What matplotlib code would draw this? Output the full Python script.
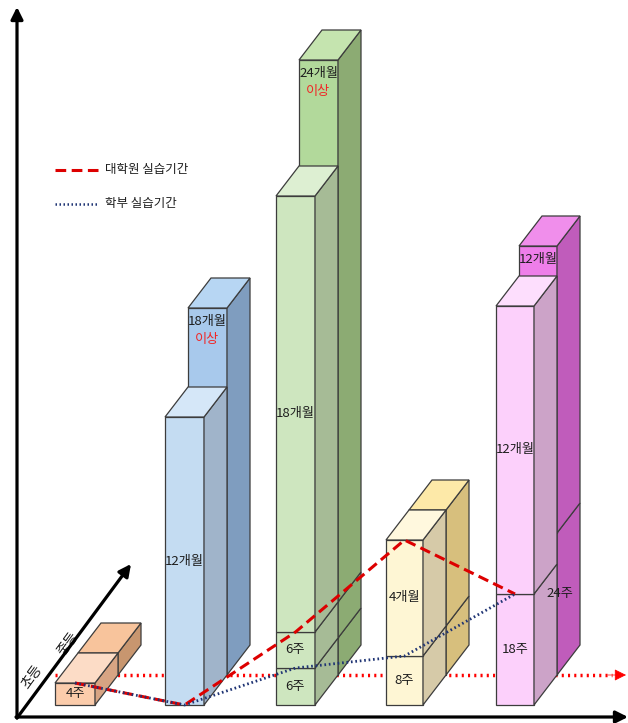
import matplotlib.pyplot as plt
from matplotlib.patches import Polygon

plt.rcParams['font.family'] = ['Noto Sans CJK KR', 'DejaVu Sans']

# stack heights per column (front row / back row), in picture units
front_heights = [[22], [288], [37, 36, 436], [49, 116], [111, 288]]
front_labels = [['4주'], ['12개월'], ['6주', '6주', '18개월'], ['8주', '4개월'], ['18주', '12개월']]
back_heights = [[22], [367], [37, 36, 542], [49, 116], [142, 287]]
back_labels = ['', '18개월', '24개월', '', '12개월']
back_notes = ['', '이상', '이상', '', '']
back_side_labels = ['', '', '', '', '24주']

undergrad = [22, 0, 37, 49, 111]   # 학부 실습기간
grad = [22, 0, 73, 165, 111]       # 대학원 실습기간
row_labels = ['초등', '중등']
legend_labels = ['대학원 실습기간', '학부 실습기간']

# layout
col_x = [55, 165, 276, 386, 496]
col_w = [40, 39, 39, 37, 38]
base = 705
ddx, ddy = 23, -30

# front face, front top, front side, back face, back top, back side
colors = [
    ('#FBCCAB', '#FCDCC6', '#D7A483', '#F9C7A2', '#F8C49C', '#C8966F'),
    ('#C4DCF2', '#D5E7F8', '#A0B4CA', '#A8C9EC', '#B7D6F3', '#7F9DBF'),
    ('#CEE6BF', '#DDEFD2', '#A6BB96', '#B2D99B', '#C5E4AF', '#8CAB73'),
    ('#FEF6D4', '#FFF8DE', '#D6CAA8', '#FDEAAA', '#FDE9A8', '#D7BF7D'),
    ('#FCD0FB', '#FDDEFD', '#CCA3C8', '#EE7EE9', '#F08EEB', '#C05CBB'),
]
edge = '#3C3C3C'
txt = '#1E1E1E'


def draw_stack(ax, x, y0, w, hs, face, top, side, zo):
    y = y0
    for h in hs:
        yt = y - h
        ax.add_patch(Polygon([(x, y), (x + w, y), (x + w, yt), (x, yt)],
                             closed=True, fc=face, ec=edge, lw=0.9, zorder=zo))
        ax.add_patch(Polygon([(x + w, y), (x + w + ddx, y + ddy), (x + w + ddx, yt + ddy), (x + w, yt)],
                             closed=True, fc=side, ec=edge, lw=0.9, zorder=zo))
        y = yt
    ax.add_patch(Polygon([(x, y), (x + w, y), (x + w + ddx, y + ddy), (x + ddx, y + ddy)],
                         closed=True, fc=top, ec=edge, lw=0.9, zorder=zo))
    return y


fig = plt.figure(figsize=(6.28, 7.23), dpi=100)
ax = fig.add_axes([0, 0, 1, 1])
ax.set_xlim(0, 628)
ax.set_ylim(723, 0)
ax.axis('off')

# back row baseline (red dotted)
ax.plot([col_x[0], 612], [base + ddy, base + ddy], color='#FF0000', lw=2.5,
        linestyle=(0, (0.6, 1.2)), zorder=1)
ax.annotate('', xy=(626, base + ddy), xytext=(608, base + ddy),
            arrowprops=dict(arrowstyle='-|>', color='#FF0000', lw=0.5,
                            mutation_scale=18, shrinkA=0, shrinkB=0), zorder=1)

for i in range(len(col_x)):
    cf, ct, cs, bf, bt, bs = colors[i]
    x, w = col_x[i], col_w[i]
    # back stack first, then the front stack over it
    btop = draw_stack(ax, x + ddx, base + ddy, w, back_heights[i], bf, bt, bs, 2 + i)
    ftop = draw_stack(ax, x, base, w, front_heights[i], cf, ct, cs, 2 + i)
    cx = x + w / 2
    y = base
    for h, lab in zip(front_heights[i], front_labels[i]):
        ax.text(cx, y - h / 2, lab, ha='center', va='center', fontsize=9.5,
                color=txt, zorder=10)
        y -= h
    if back_labels[i]:
        ax.text(cx + ddx, btop + 14, back_labels[i], ha='center', va='center',
                fontsize=9.5, color=txt, zorder=10)
    if back_notes[i]:
        ax.text(cx + ddx, btop + 32, back_notes[i], ha='center', va='center',
                fontsize=9.5, color='#F02828', zorder=10)
    if back_side_labels[i]:
        h0 = back_heights[i][0]
        ax.text(x + w + ddx + 3, base + ddy - h0 / 2 - 10, back_side_labels[i],
                ha='center', va='center', fontsize=9.5, color=txt, zorder=10)

# practice period lines
line_x = [x + w / 2 for x, w in zip(col_x, col_w)]
ax.plot(line_x, [base - v for v in grad], color='#DD0000', lw=2.2,
        linestyle=(0, (3.5, 1.8)), zorder=20)
ax.plot(line_x, [base - v for v in undergrad], color='#1F3474', lw=2.0,
        linestyle=(0, (0.6, 1.0)), zorder=21)

# axes
arrow = dict(arrowstyle='-|>', color='black', lw=2.3, mutation_scale=18,
             shrinkA=0, shrinkB=0)
ax.annotate('', xy=(17, 7), xytext=(17, 718), arrowprops=arrow, zorder=30)
ax.annotate('', xy=(628, 717), xytext=(16, 717), arrowprops=arrow, zorder=30)
ax.annotate('', xy=(131, 564), xytext=(17, 718), arrowprops=arrow, zorder=30)
ax.text(32, 677, row_labels[0], rotation=54, ha='center', va='center',
        fontsize=10, color=txt)
ax.text(68, 644, row_labels[1], rotation=54, ha='center', va='center',
        fontsize=10, color=txt)

# legend
ax.plot([55, 98], [170, 170], color='#DD0000', lw=2.2, linestyle=(0, (3.5, 1.8)))
ax.plot([55, 98], [204, 204], color='#1F3474', lw=1.8, linestyle=(0, (0.6, 1.0)))
ax.text(105, 170, legend_labels[0], ha='left', va='center', fontsize=9, color=txt)
ax.text(105, 204, legend_labels[1], ha='left', va='center', fontsize=9, color=txt)

fig.savefig('out.png', dpi=100)
